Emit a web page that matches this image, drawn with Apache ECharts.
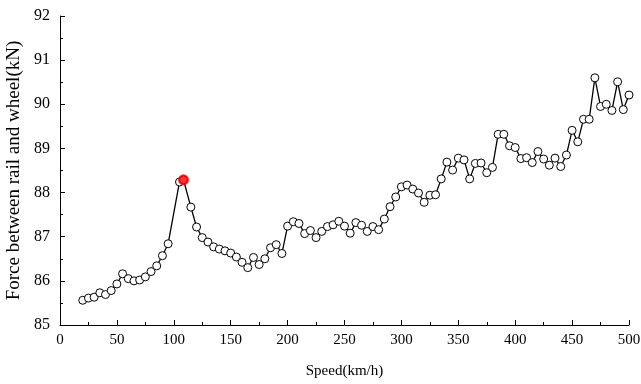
<!DOCTYPE html>
<html>
<head>
<meta charset="utf-8">
<script src="https://cdn.jsdelivr.net/npm/echarts@6/dist/echarts.min.js"></script>
<style>html,body{margin:0;padding:0;background:#fff}#c{width:641px;height:384px}</style>
</head>
<body>
<div id="c"></div>
<script>
var speeds = [20,25,30,35,40,45,50,55,60,65,70,75,80,85,90,95,105,108.5,115,120,125,130,135,140,145,150,155,160,165,170,175,180,185,190,195,200,205,210,215,220,225,230,235,240,245,250,255,260,265,270,275,280,285,290,295,300,305,310,315,320,325,330,335,340,345,350,355,360,365,370,375,380,385,390,395,400,405,410,415,420,425,430,435,440,445,450,455,460,465,470,475,480,485,490,495,500];
var forces = [85.56,85.61,85.63,85.73,85.69,85.78,85.93,86.16,86.05,86.00,86.02,86.09,86.21,86.34,86.57,86.84,88.24,88.29,87.67,87.22,86.98,86.88,86.77,86.72,86.68,86.63,86.54,86.42,86.30,86.53,86.37,86.50,86.75,86.82,86.62,87.24,87.34,87.30,87.07,87.14,86.98,87.12,87.23,87.27,87.35,87.24,87.08,87.32,87.26,87.12,87.23,87.16,87.40,87.68,87.90,88.13,88.17,88.08,87.99,87.78,87.94,87.95,88.31,88.69,88.51,88.78,88.74,88.31,88.66,88.67,88.45,88.57,89.32,89.32,89.06,89.02,88.77,88.79,88.68,88.93,88.76,88.62,88.78,88.59,88.85,89.41,89.15,89.66,89.66,90.60,89.95,90.00,89.86,90.51,89.88,90.21];
var peakSpeed = [108.5];
var peakForce = [88.29];
var xTitle = 'Speed(km/h)';
var yTitle = 'Force between rail and wheel(kN)';

var mainData = speeds.map(function(s, i){ return [s, forces[i]]; });
var peakData = peakSpeed.map(function(s, i){ return [s, peakForce[i]]; });

var chart = echarts.init(document.getElementById('c'), null, {renderer: 'canvas'});
var font = 'Liberation Serif';
chart.setOption({
  animation: false,
  backgroundColor: '#fff',
  grid: {left: 60, right: 12, top: 16, bottom: 59, containLabel: false, outerBoundsMode: 'none'},
  xAxis: {
    type: 'value', min: 0, max: 500, interval: 50,
    name: xTitle, nameLocation: 'middle', nameGap: 39,
    nameTextStyle: {fontFamily: font, fontSize: 15, color: '#000'},
    axisLine: {show: true, lineStyle: {color: '#000', width: 1}},
    axisTick: {show: true, inside: true, length: 5, lineStyle: {color: '#000'}},
    minorTick: {show: true, splitNumber: 2, length: 3, lineStyle: {color: '#000'}},
    axisLabel: {fontFamily: font, fontSize: 15, color: '#000', margin: 8, hideOverlap: false},
    splitLine: {show: false}
  },
  yAxis: {
    type: 'value', min: 85, max: 92, interval: 1,
    name: yTitle, nameLocation: 'middle', nameGap: 34,
    nameTextStyle: {fontFamily: font, fontSize: 19, color: '#000'},
    axisLine: {show: true, lineStyle: {color: '#000', width: 1}},
    axisTick: {show: true, inside: true, length: 5, lineStyle: {color: '#000'}},
    minorTick: {show: true, splitNumber: 2, length: 3, lineStyle: {color: '#000'}},
    axisLabel: {fontFamily: font, fontSize: 16, color: '#000', margin: 10},
    splitLine: {show: false}
  },
  series: [
    {
      type: 'line', data: mainData,
      symbol: 'circle', symbolSize: 8, showAllSymbol: true,
      lineStyle: {color: '#000', width: 1.3},
      itemStyle: {color: '#fff', borderColor: '#000', borderWidth: 1},
      z: 2
    },
    {
      type: 'scatter', data: peakData,
      symbol: 'circle', symbolSize: 11,
      itemStyle: {color: '#ff0000', borderColor: '#ff0000', borderWidth: 0},
      z: 3
    }
  ]
});
</script>
</body>
</html>
